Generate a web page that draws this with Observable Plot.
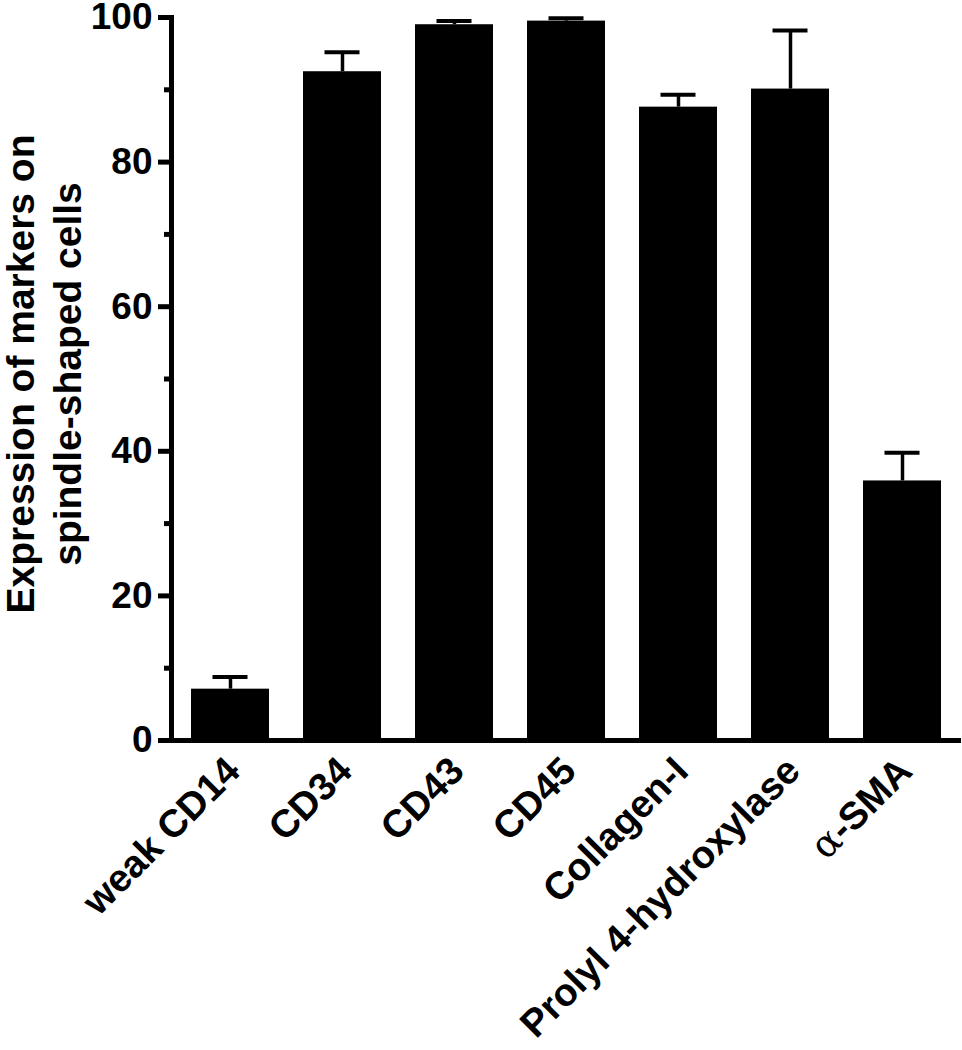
<!DOCTYPE html>
<html>
<head>
<meta charset="utf-8">
<script src="https://cdn.jsdelivr.net/npm/d3@7"></script>
<script src="https://cdn.jsdelivr.net/npm/@observablehq/plot@0.6"></script>
<style>
  html, body { margin: 0; padding: 0; background: #fff; }
  #chart svg { display: block; }
</style>
</head>
<body>
<div id="chart"></div>
<script>
const categories = ["weak CD14", "CD34", "CD43", "CD45", "Collagen-I", "Prolyl 4-hydroxylase", "α-SMA"];
const means = [7.1, 92.5, 99.0, 99.5, 87.6, 90.1, 35.9];
const errors = [1.7, 2.7, 0.5, 0.4, 1.7, 8.1, 3.9];
const yTicks = [0, 20, 40, 60, 80, 100];
const yMinorTicks = [10, 30, 50, 70, 90];
const yLabel = "Expression of markers on\nspindle-shaped cells";

const data = categories.map((c, i) => ({cat: c, mean: means[i], err: errors[i]}));
const font = "'Liberation Sans', Arial, Helvetica, sans-serif";

const chart = Plot.plot({
  width: 962,
  height: 1050,
  marginLeft: 171,
  marginRight: 1,
  marginTop: 17,
  marginBottom: 310,
  style: {fontFamily: font, background: "#fff", color: "#000"},
  x: {domain: categories, paddingInner: 0.3, paddingOuter: 0.17, axis: null},
  y: {domain: [0, 100], axis: null},
  marks: [
    Plot.barY(data, {x: "cat", y: "mean", fill: "#000"}),
    Plot.ruleX(data, {x: "cat", y1: "mean", y2: d => d.mean + d.err, stroke: "#000", strokeWidth: 3.5}),
    Plot.tickY(data, {x: "cat", y: d => d.mean + d.err, stroke: "#000", strokeWidth: 4, insetLeft: 21.5, insetRight: 21.5}),
    Plot.ruleY([0], {stroke: "#000", strokeWidth: 5}),
    Plot.frame({anchor: "left", stroke: "#000", strokeWidth: 5}),
    Plot.axisY({ticks: yMinorTicks, tickSize: 7, strokeWidth: 5, text: null, label: null}),
    Plot.axisY({ticks: yTicks, tickSize: 13, strokeWidth: 5, tickPadding: 6,
      fontSize: 37, fontWeight: "bold", fontFamily: font, label: null}),
    Plot.text(categories, {x: d => d, frameAnchor: "bottom", rotate: -45, textAnchor: "end",
      lineAnchor: "middle", dx: 3, dy: 24, fontSize: 38.5, fontWeight: "bold", fontFamily: font, fill: "#000"}),
    Plot.text([yLabel], {frameAnchor: "left", rotate: -90, textAnchor: "middle", lineAnchor: "top",
      dx: -171, dy: -5, fontSize: 39, fontWeight: "bold", lineHeight: 1.2, fontFamily: font, fill: "#000"})
  ]
});

// render the Greek alpha in a serif face, as in the original figure
chart.querySelectorAll("text").forEach(t => {
  if (t.textContent === "α-SMA") {
    t.textContent = "";
    const ns = "http://www.w3.org/2000/svg";
    const a = document.createElementNS(ns, "tspan");
    a.setAttribute("font-family", "'DejaVu Serif', 'Liberation Serif', serif");
    a.setAttribute("font-weight", "normal");
    a.textContent = "α";
    const b = document.createElementNS(ns, "tspan");
    b.textContent = "-SMA";
    t.appendChild(a); t.appendChild(b);
  }
});

document.getElementById("chart").appendChild(chart);
</script>
</body>
</html>
